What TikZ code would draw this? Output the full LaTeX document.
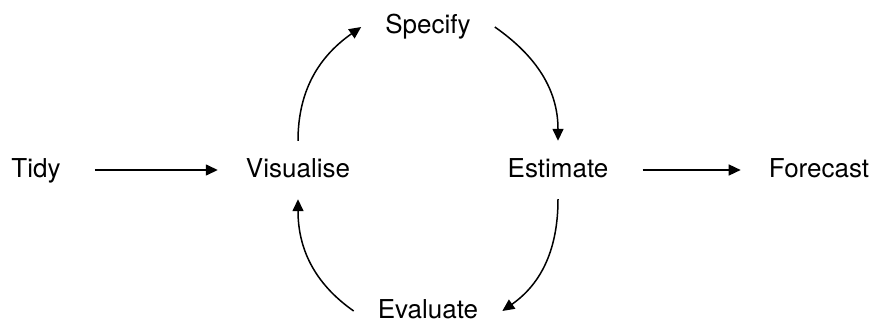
\documentclass[tikz,border=0pt]{standalone}
\usepackage{fontspec}
\setmainfont{TeX Gyre Heros}
\usetikzlibrary{arrows.meta, positioning}

\begin{document}
\begin{tikzpicture}[
      x=1pt, y=1pt,
      stage/.style={font=\fontsize{26}{30}\selectfont, text height=19pt,
                    text depth=5pt, inner xsep=24pt, inner ysep=17pt,
                    anchor=base},
      arr/.style={-{Triangle[length=12pt,width=11pt]}, line width=1.5pt},
      line/.style={arr, shorten <=10pt, shorten >=4pt},
      ]
    \useasboundingbox (0,0) rectangle (875,322);
    \node[stage] (tidy) at (36,145) {Tidy};
    \node[stage] (vis) at (298,145) {Visualise};
    \node[stage] (spec) at (428,288) {Specify};
    \node[stage] (est) at (558,145) {Estimate};
    \node[stage] (fore) at (819,145) {Forecast};
    \node[stage] (eval) at (428,4) {Evaluate};

    \draw[line] (tidy) -- (vis);
    \draw[line] (est) -- (fore);
    \draw[arr] (vis.north) to[out=90, in=215] (spec.west);
    \draw[arr] (spec.east) to[out=-35, in=90] (est.north);
    \draw[arr] (est.south) to[out=-90, in=35] (eval.east);
    \draw[arr] (eval.west) to[out=145, in=-90] (vis.south);
  \end{tikzpicture}
\end{document}
